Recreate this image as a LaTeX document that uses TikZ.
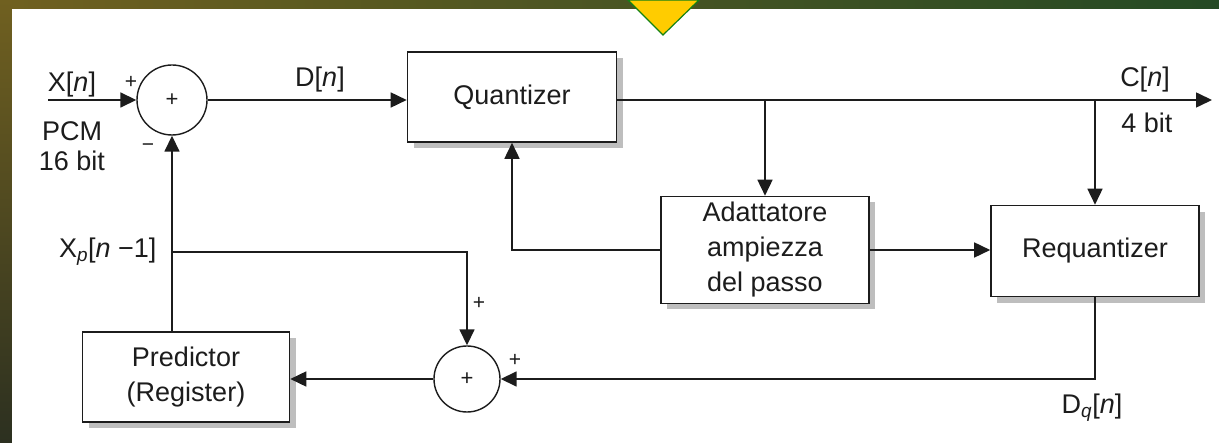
\documentclass[tikz,border=0pt]{standalone}
\usepackage{fontspec}
\setmainfont{Liberation Sans}
\usetikzlibrary{arrows.meta,backgrounds}
\definecolor{ink}{RGB}{28,28,28}
\definecolor{bgolive}{RGB}{112,96,32}
\definecolor{bggreen}{RGB}{36,74,36}
\definecolor{bgdark}{RGB}{44,48,32}
\definecolor{signyellow}{RGB}{255,204,0}
\definecolor{signgreen}{RGB}{20,130,20}
\definecolor{boxshade}{RGB}{190,190,190}
\begin{document}
\begin{tikzpicture}[x=1pt,y=-1pt,
	font=\fontsize{27}{35}\selectfont, text=ink,
	wire/.style={draw=ink, line width=1.6pt},
	flow/.style={wire, -{Triangle[length=16pt,width=15pt]}},
	blok/.style={draw=ink, line width=1.6pt, fill=white, align=center, inner sep=0pt},
	summer/.style={circle, draw=ink, line width=1.4pt, fill=white, inner sep=0pt,
		font=\fontsize{22}{22}\selectfont},
	sign/.style={font=\fontsize{21}{21}\selectfont, inner sep=0pt}]
	\useasboundingbox (0,0) rectangle (1219,443);
	% backdrop
	\shade [left color=bgolive, right color=bggreen] (0,0) rectangle (1219,443);
	\shade [top color=bgolive, bottom color=bgdark] (0,0) rectangle (12,443);
	\fill [white] (12,9) rectangle (1219,443);
	\draw [fill=signyellow, draw=signgreen, line width=1.2pt] (628,0) -- (699,0) -- (663,35) -- cycle;
	% box shadows
	\fill [boxshade] (414,58) rectangle (623,148);
	\fill [boxshade] (667,202) rectangle (875,309);
	\fill [boxshade] (997,212) rectangle (1205,303);
	\fill [boxshade] (89,338) rectangle (296,428);
	% blocks
	\node [summer, minimum size=70] (sum1) at (172,100) {+};
	\node [summer, minimum size=66] (sum2) at (467,379) {+};
	\node [blok, minimum width=209, minimum height=90] (quant) at (512,97) {Quantizer};
	\node [blok, minimum width=208, minimum height=107] (adapt) at (765,250) {Adattatore\\ampiezza\\del passo};
	\node [blok, minimum width=208, minimum height=91] (requant) at (1095,251) {Requantizer};
	\node [blok, minimum width=207, minimum height=90] (pred) at (186,377) {Predictor\\(Register)};
	\coordinate (xin) at (48,100);
	\coordinate (cout) at (1212,100);
	\coordinate (xp) at (172,252);
	% signals
	\draw [flow] (xin) -- (sum1);
	\draw [flow] (sum1) -- (sum1 -| quant.west);
	\draw [flow] (quant.east |- sum1) -- (cout);
	\draw [flow] (adapt.north |- cout) -- (adapt.north);
	\draw [flow] (requant.north |- cout) -- (requant.north);
	\draw [flow] (adapt.west) -| (quant.south);
	\draw [flow] (adapt.east) -- (adapt.east -| requant.west);
	\draw [flow] (requant.south) |- (sum2.east);
	\draw [flow] (sum2.west) -- (sum2.west -| pred.east);
	\draw [flow] (pred.north -| sum1) -- (sum1.south);
	\draw [flow] (xp) -| (sum2.north);
	% labels
	\node (lxin) at (72,85) {X[\textit{n}]};
	\node [align=center, font=\fontsize{27}{30}\selectfont] (lpcm) at (72,146) {PCM\\16 bit};
	\node [sign] (p1) at (131,82) {+};
	\node [sign] (m1) at (148,148) {\textminus};
	\node (ld) at (320,80) {D[\textit{n}]};
	\node (lc) at (1145,80) {C[\textit{n}]};
	\node (lbit) at (1147,123) {4 bit};
	\node [anchor=east] (lxp) at (160,252) {X\textsubscript{\textit{p}}[\textit{n} \textminus1]};
	\node [sign] (p2) at (479,303) {+};
	\node [sign] (p3) at (515,360) {+};
	\node (ldq) at (1092,408) {D\textsubscript{\textit{q}}[\textit{n}]};
\end{tikzpicture}
\end{document}
